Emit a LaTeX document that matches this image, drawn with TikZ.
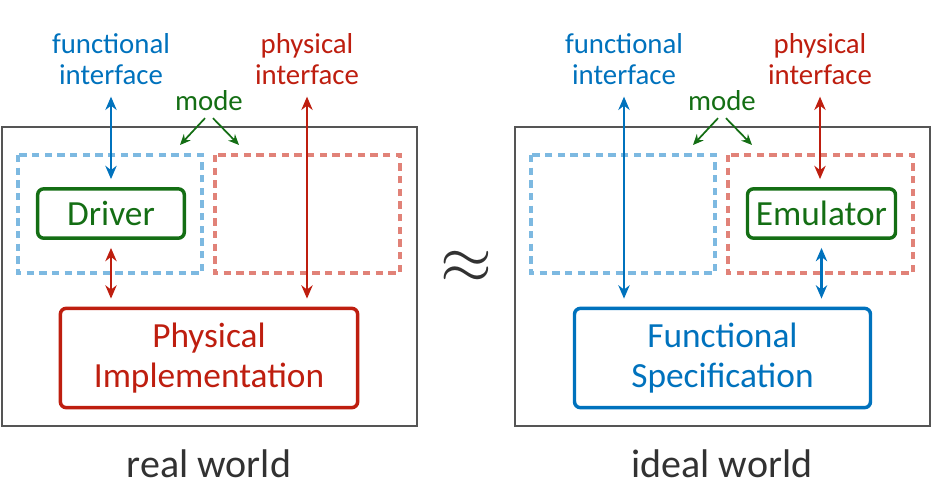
\documentclass[tikz,border=0pt]{standalone}
\usepackage{fontspec}
\setmainfont{Carlito}
\usepackage{graphicx}
\usepackage{tikz}
\usetikzlibrary{arrows.meta}

\definecolor{fblue}{RGB}{0,114,189}
\definecolor{pred}{RGB}{190,30,15}
\definecolor{mgreen}{RGB}{20,110,20}
\definecolor{lblue}{RGB}{125,185,225}
\definecolor{lred}{RGB}{225,130,120}
\definecolor{frame}{RGB}{85,85,85}
\definecolor{ink}{RGB}{50,50,50}

\tikzset{
	lbl/.style = {align=center, font=\fontsize{21.6}{23.3}\selectfont, inner sep=0pt, outer sep=3pt},
	box/.style = {draw, rounded corners=4.5pt, line width=2.6pt, align=center, inner sep=0pt,
		font=\fontsize{26.5}{30}\selectfont},
	zone/.style = {dash pattern=on 5.5pt off 4pt, line width=2.7pt},
	link/.style = {line width=1.8pt, shorten <=6pt, shorten >=6pt,
		{Stealth[length=10pt,width=8.5pt]}-{Stealth[length=10pt,width=8.5pt]}},
	hint/.style = {mgreen, line width=1.3pt, -{Stealth[length=8pt,width=7pt]}}
}

\begin{document}
\begin{tikzpicture}[x = 0.75pt, y = -0.75pt]
	\useasboundingbox (0,0) rectangle (947,490);
	
	% worlds
	\foreach \i/\w in {0/real, 1/ideal}{
		\begin{scope}[shift={(513*\i,0)}]
			\draw[frame, line width=1.1pt] (2,127) rectangle (417,426);
			\draw[zone, lblue] (18,155) rectangle (202,273);
			\draw[zone, lred] (215,155) rectangle (400,273);
			\node[lbl, fblue] (fi\i) at (111,59) {functional\\interface};
			\node[lbl, pred] (pi\i) at (307,59) {physical\\interface};
			\node[lbl, mgreen, anchor=base, outer sep=0pt] (mode\i) at (209,110) {mode};
			\coordinate (ml\i) at (180,145);
			\coordinate (mr\i) at (239,145);
			\draw[hint] ([xshift=-3pt,yshift=-6pt]mode\i.south) -- (ml\i);
			\draw[hint] ([xshift=3pt,yshift=-6pt]mode\i.south) -- (mr\i);
			\node[ink, font=\fontsize{30}{30}\selectfont, anchor=base] (w\i) at (209,477) {\w\ world};
		\end{scope}
	}
	
	\node[ink] (approx) at (466,267) {\scalebox{5}{$\approx$}};
	
	% real world
	\node[box, mgreen, minimum width=110pt, minimum height=37pt] (drv) at (111,213.5) {Driver};
	\node[box, pred, minimum width=223pt, minimum height=74.5pt] (impl) at (209,358) {Physical\\Implementation};
	
	\draw[link, fblue] (fi0) -- (drv);
	\draw[link, pred] (pi0) -- (pi0 |- impl.north);
	\draw[link, pred] (drv) -- (drv |- impl.north);
	
	% ideal world
	\node[box, mgreen, minimum width=111pt, minimum height=37pt] (emu) at (821.5,213.5) {Emulator};
	\node[box, fblue, minimum width=222pt, minimum height=74.5pt] (spec) at (722.5,358) {Functional\\Specification};
	
	\draw[link, fblue] (fi1) -- (fi1 |- spec.north);
	\draw[link, pred] (pi1) -- (pi1 |- emu.north);
	\draw[link, fblue] (emu) -- (emu |- spec.north);
	
\end{tikzpicture}
\end{document}
